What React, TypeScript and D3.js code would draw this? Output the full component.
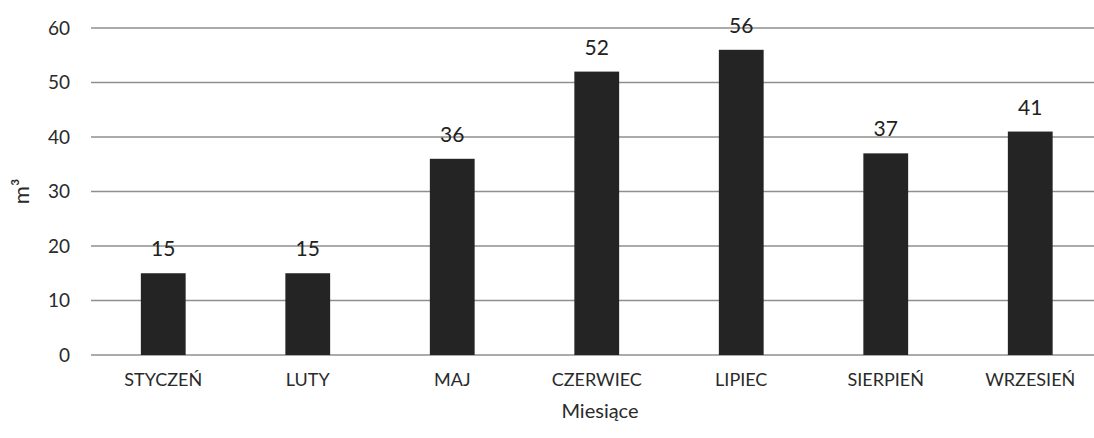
import React, { useEffect, useRef } from "react";
import * as d3 from "d3";

const months = ["STYCZEŃ", "LUTY", "MAJ", "CZERWIEC", "LIPIEC", "SIERPIEŃ", "WRZESIEŃ"];
const volumes = [15, 15, 36, 52, 56, 37, 41];
const yTicks = [0, 10, 20, 30, 40, 50, 60];

const App = () => {
  const ref = useRef<SVGSVGElement>(null);

  useEffect(() => {
    const width = 1094;
    const left = 91;
    const top = 28;
    const bottom = 355;
    const font = "Lato, 'Open Sans', sans-serif";

    const svg = d3.select(ref.current);
    svg.selectAll("*").remove();

    const x = d3.scaleBand<string>()
      .domain(months)
      .range([left, left + 7 * 144.5])
      .paddingInner(0.69)
      .paddingOuter(0.345);
    const y = d3.scaleLinear().domain([0, 60]).range([bottom, top]);

    // gridlines
    svg.append("g")
      .selectAll("line")
      .data(yTicks)
      .join("line")
      .attr("x1", left)
      .attr("x2", width)
      .attr("y1", d => y(d))
      .attr("y2", d => y(d))
      .attr("stroke", "#8f8f8f")
      .attr("stroke-width", 1.3);

    // y tick labels
    svg.append("g")
      .selectAll("text")
      .data(yTicks)
      .join("text")
      .attr("x", 70)
      .attr("y", d => y(d))
      .attr("dy", "0.35em")
      .attr("text-anchor", "end")
      .attr("font-family", font)
      .attr("font-size", 19)
      .attr("fill", "#2a2a2a")
      .text(d => d);

    // bars
    svg.append("g")
      .selectAll("rect")
      .data(volumes)
      .join("rect")
      .attr("x", (d, i) => x(months[i])!)
      .attr("y", d => y(d))
      .attr("width", x.bandwidth())
      .attr("height", d => y(0) - y(d))
      .attr("fill", "#242424");

    // value labels
    svg.append("g")
      .selectAll("text")
      .data(volumes)
      .join("text")
      .attr("x", (d, i) => x(months[i])! + x.bandwidth() / 2)
      .attr("y", d => y(d) - 17)
      .attr("text-anchor", "middle")
      .attr("font-family", font)
      .attr("font-size", 21)
      .attr("fill", "#222")
      .text(d => d);

    // category labels
    svg.append("g")
      .selectAll("text")
      .data(months)
      .join("text")
      .attr("x", d => x(d)! + x.bandwidth() / 2)
      .attr("y", 386)
      .attr("text-anchor", "middle")
      .attr("font-family", font)
      .attr("font-size", 18)
      .attr("fill", "#2a2a2a")
      .text(d => d);

    // axis titles
    svg.append("text")
      .attr("x", 600)
      .attr("y", 418)
      .attr("text-anchor", "middle")
      .attr("font-family", font)
      .attr("font-size", 20)
      .attr("fill", "#2a2a2a")
      .text("Miesiące");

    svg.append("text")
      .attr("transform", `translate(29, ${(top + bottom) / 2}) rotate(-90)`)
      .attr("text-anchor", "middle")
      .attr("font-family", font)
      .attr("font-size", 22)
      .attr("fill", "#2a2a2a")
      .text("m³");
  }, []);

  return (
    <svg ref={ref} width={1094} height={438} style={{ position: "absolute", left: 0, top: 0, background: "#fff" }} />
  );
};

export default App;
